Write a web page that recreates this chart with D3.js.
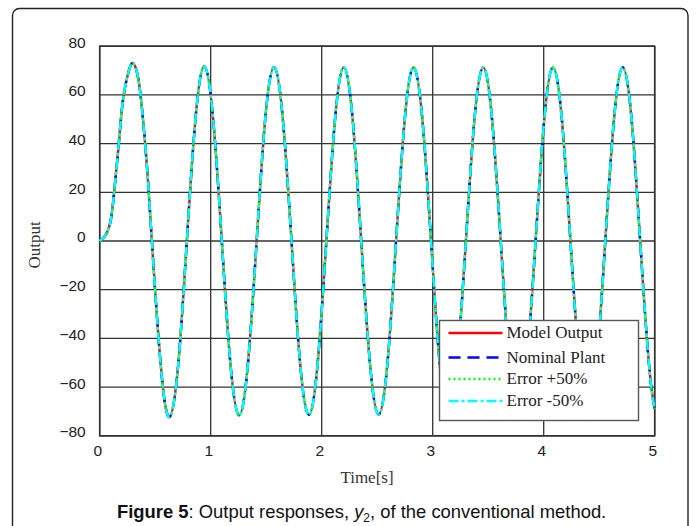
<!DOCTYPE html>
<html>
<head>
<meta charset="utf-8">
<script src="https://cdn.jsdelivr.net/npm/d3@7"></script>
<style>
  body { margin: 0; background: #fff; }
  svg { display: block; }
</style>
</head>
<body>
<div id="chart"></div>
<script>
// time samples [s] (denser during the initial rise)
var times = [0, 0.03, 0.063, 0.10, 0.13, 0.17, 0.21, 0.26, 0.303, 0.35, 0.39, 0.43, 0.47,
    0.550, 0.628, 0.707, 0.785, 0.864, 0.942, 1.021, 1.100, 1.178, 1.257, 1.335, 1.414,
    1.492, 1.571, 1.649, 1.728, 1.806, 1.885, 1.963, 2.042, 2.121, 2.199, 2.278, 2.356,
    2.435, 2.513, 2.592, 2.670, 2.749, 2.827, 2.906, 2.985, 3.063, 3.142, 3.220, 3.299,
    3.377, 3.456, 3.534, 3.613, 3.691, 3.770, 3.848, 3.927, 4.006, 4.084, 4.163, 4.241,
    4.320, 4.398, 4.477, 4.555, 4.634, 4.712, 4.791, 4.869, 4.948, 5.0];

// output values (all four responses overlap)
var modelOutput = [0, 1.2, 3.2, 8.6, 20, 39, 58, 69.5, 73, 66, 50, 28, 0,
    -51, -72.3, -51, 0, 50.7, 71.7, 50.6, 0, -50.6, -71.6, -50.6, 0,
    50.5, 71.4, 50.5, 0, -50.5, -71.4, -50.5, 0, 50.4, 71.3, 50.4, 0,
    -50.4, -71.3, -50.4, 0, 50.4, 71.3, 50.4, 0, -50.4, -71.3, -50.4, 0,
    50.4, 71.3, 50.4, 0, -50.4, -71.3, -50.4, 0, 50.4, 71.3, 50.4, 0,
    -50.4, -71.3, -50.4, 0, 50.4, 71.3, 50.4, 0, -50.4, -69.0];
var nominalPlant = modelOutput.slice();
var errorPlus50 = modelOutput.slice();
var errorMinus50 = modelOutput.slice();

var seriesNames = ["Model Output", "Nominal Plant", "Error +50%", "Error -50%"];
var seriesColors = ["#ff0000", "#0000ff", "#00ff00", "#00ffff"];
var seriesDash = ["none", "12,7", "2,3", "10,3,3,3"];
var seriesValues = [modelOutput, nominalPlant, errorPlus50, errorMinus50];

var xTicks = [0, 1, 2, 3, 4, 5];
var yTicks = [-80, -60, -40, -20, 0, 20, 40, 60, 80];

function init() {
    var W = 696, H = 526;
    var left = 99.7, top = 46.2, w = 555, h = 389.6;

    var svg = d3.select("#chart")
        .append("svg")
        .attr("width", W)
        .attr("height", H);

    // figure frame (open at the bottom)
    svg.append("rect")
        .attr("x", 12.5).attr("y", 8.5)
        .attr("width", 675.5).attr("height", 560)
        .attr("rx", 7)
        .attr("fill", "none")
        .attr("stroke", "#222")
        .attr("stroke-width", 1.4);

    var g = svg.append("g")
        .attr("transform", "translate(" + left + "," + top + ")");

    var xScale = d3.scaleLinear().domain([0, 5]).range([0, w]);
    var yScale = d3.scaleLinear().domain([-80, 80]).range([h, 0]);

    // grid
    g.selectAll(".vgrid")
        .data(xTicks)
        .enter().append("line")
        .attr("class", "vgrid")
        .attr("x1", function(d) { return xScale(d); })
        .attr("x2", function(d) { return xScale(d); })
        .attr("y1", 0).attr("y2", h)
        .attr("stroke", "#333").attr("stroke-width", 1.3);

    g.selectAll(".hgrid")
        .data(yTicks)
        .enter().append("line")
        .attr("class", "hgrid")
        .attr("x1", 0).attr("x2", w)
        .attr("y1", function(d) { return yScale(d); })
        .attr("y2", function(d) { return yScale(d); })
        .attr("stroke", "#333").attr("stroke-width", 1.3);

    // box
    g.append("rect")
        .attr("width", w).attr("height", h)
        .attr("fill", "none")
        .attr("stroke", "#333")
        .attr("stroke-width", 1.6);

    // axes (labels only)
    var xAxis = d3.axisBottom(xScale).tickValues(xTicks).tickFormat(d3.format("d"))
        .tickSize(0).tickPadding(9);
    var gx = g.append("g")
        .attr("transform", "translate(0," + h + ")")
        .call(xAxis);
    gx.select(".domain").remove();
    gx.selectAll("text")
        .attr("dx", -2.5)
        .attr("font-family", "'Liberation Sans', Arial, sans-serif")
        .attr("font-size", 15.5)
        .attr("fill", "#222");

    var yAxis = d3.axisLeft(yScale).tickValues(yTicks).tickSize(0).tickPadding(14);
    var gy = g.append("g").call(yAxis);
    gy.select(".domain").remove();
    gy.selectAll("text")
        .attr("y", -4)
        .attr("font-family", "'Liberation Sans', Arial, sans-serif")
        .attr("font-size", 15.5)
        .attr("fill", "#222");

    // lines
    var line = d3.line()
        .x(function(d) { return xScale(d[0]); })
        .y(function(d) { return yScale(d[1]); })
        .curve(d3.curveNatural);

    seriesValues.forEach(function(vals, i) {
        g.append("path")
            .datum(times.map(function(t, k) { return [t, vals[k]]; }))
            .attr("d", line)
            .attr("fill", "none")
            .attr("stroke", seriesColors[i])
            .attr("stroke-width", 2.4)
            .attr("stroke-dasharray", seriesDash[i]);
    });

    // legend
    var leg = svg.append("g").attr("transform", "translate(439.5,320.5)");
    leg.append("rect")
        .attr("width", 199).attr("height", 100)
        .attr("fill", "#fff")
        .attr("stroke", "#555")
        .attr("stroke-width", 1.4);
    var rowY = [12.5, 37, 58.5, 80.5];
    seriesNames.forEach(function(name, i) {
        leg.append("line")
            .attr("x1", 9).attr("x2", 63)
            .attr("y1", rowY[i]).attr("y2", rowY[i])
            .attr("stroke", seriesColors[i])
            .attr("stroke-width", 2.4)
            .attr("stroke-dasharray", seriesDash[i]);
        leg.append("text")
            .attr("x", 67)
            .attr("y", rowY[i] + 5)
            .attr("font-family", "'Liberation Serif', 'Times New Roman', serif")
            .attr("font-size", 17)
            .attr("fill", "#222")
            .text(name);
    });

    // axis titles
    svg.append("text")
        .attr("x", 367).attr("y", 483)
        .attr("text-anchor", "middle")
        .attr("font-family", "'Liberation Serif', 'Times New Roman', serif")
        .attr("font-size", 17)
        .attr("fill", "#333")
        .text("Time[s]");

    svg.append("text")
        .attr("transform", "translate(40,245) rotate(-90)")
        .attr("text-anchor", "middle")
        .attr("font-family", "'Liberation Serif', 'Times New Roman', serif")
        .attr("font-size", 17)
        .attr("fill", "#333")
        .text("Output");

    // caption
    var cap = svg.append("text")
        .attr("x", 117).attr("y", 518)
        .attr("font-family", "'Liberation Sans', Arial, sans-serif")
        .attr("font-size", 18.4)
        .attr("fill", "#111");
    cap.append("tspan").attr("font-weight", "bold").text("Figure 5");
    cap.append("tspan").text(": Output responses, ");
    cap.append("tspan").attr("font-style", "italic").text("y");
    cap.append("tspan").attr("font-size", 12).attr("dy", 4).text("2");
    cap.append("tspan").attr("dy", -4).text(", of the conventional method.");
}

window.onload = init;
</script>
</body>
</html>
